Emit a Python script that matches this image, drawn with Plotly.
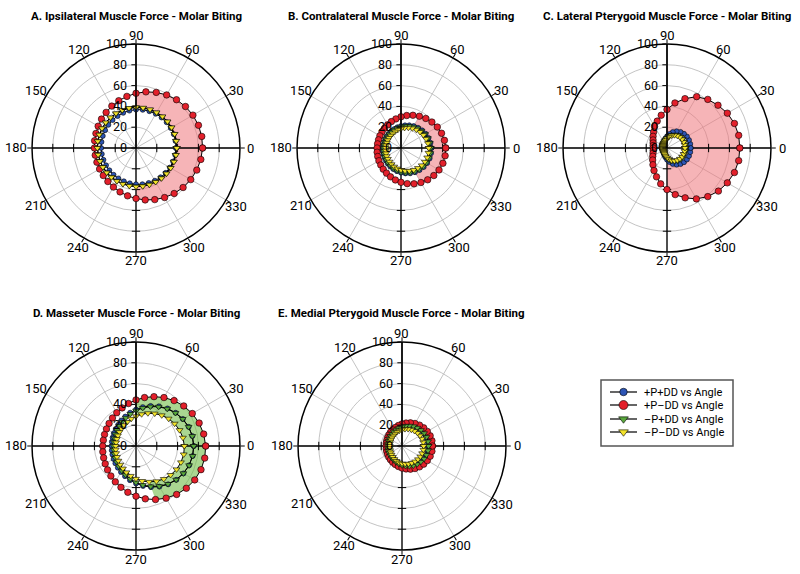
import math
import plotly.graph_objects as go

# ---------------- data ----------------
theta = list(range(0, 360, 10))
angle_ticks = list(range(0, 360, 30))
radial_ticks = [0, 20, 40, 60, 80, 100]
series_names = ["+P+DD vs Angle", "+P\u2013DD vs Angle", "\u2013P+DD vs Angle", "\u2013P\u2013DD vs Angle"]
titles = [
    "A. Ipsilateral Muscle Force - Molar Biting",
    "B. Contralateral Muscle Force - Molar Biting",
    "C. Lateral Pterygoid Muscle Force - Molar Biting",
    "D. Masseter Muscle Force - Molar Biting",
    "E. Medial Pterygoid Muscle Force - Molar Biting",
]

# A. Ipsilateral
ipsi_pp = [38.5, 38.6, 38.7, 38.6, 38.5, 38.3, 38.0, 37.7, 37.3, 36.9, 36.5, 36.0, 35.5, 35.1, 34.7, 34.3, 34.0, 33.7,
           33.5, 33.4, 33.3, 33.3, 33.4, 33.6, 33.8, 34.1, 34.5, 34.9, 35.4, 35.8, 36.3, 36.8, 37.2, 37.6, 38.0, 38.3]
ipsi_pm = [64.0, 64.2, 63.9, 63.2, 62.1, 60.6, 58.9, 56.9, 54.8, 52.6, 50.4, 48.4, 46.5, 44.7, 43.3, 42.0, 41.0, 40.4,
           40.0, 39.8, 40.0, 40.4, 41.1, 42.1, 43.4, 44.9, 46.7, 48.6, 50.7, 52.8, 55.0, 57.1, 59.1, 60.8, 62.2, 63.3]
ipsi_mp = [38.9, 39.0, 39.2, 39.2, 39.3, 39.3, 39.2, 39.2, 39.0, 38.9, 38.7, 38.5, 38.2, 38.0, 37.8, 37.5, 37.3, 37.1,
           36.9, 36.7, 36.6, 36.5, 36.5, 36.5, 36.5, 36.6, 36.7, 36.9, 37.1, 37.3, 37.5, 37.8, 38.0, 38.2, 38.5, 38.7]
ipsi_mm = [39.2, 39.3, 39.5, 39.5, 39.6, 39.6, 39.5, 39.5, 39.3, 39.2, 39.0, 38.8, 38.5, 38.3, 38.1, 37.8, 37.6, 37.4,
           37.2, 37.0, 36.9, 36.8, 36.8, 36.8, 36.8, 36.9, 37.0, 37.2, 37.4, 37.6, 37.8, 38.1, 38.3, 38.5, 38.8, 39.0]

# B. Contralateral
contra_pp = [29.2, 28.8, 28.2, 27.4, 26.4, 25.4, 24.3, 23.2, 22.1, 21.1, 20.2, 19.3, 18.6, 18.0, 17.6, 17.3, 17.1, 17.1,
             17.2, 17.4, 17.8, 18.3, 18.9, 19.7, 20.6, 21.6, 22.6, 23.7, 24.8, 25.9, 26.9, 27.7, 28.5, 29.0, 29.3, 29.3]
contra_pm = [43.0, 42.4, 41.5, 40.3, 38.8, 37.1, 35.3, 33.5, 31.7, 30.0, 28.4, 27.0, 25.7, 24.7, 23.9, 23.4, 23.0, 22.9,
             23.0, 23.3, 23.8, 24.5, 25.4, 26.6, 27.9, 29.5, 31.2, 33.0, 34.8, 36.6, 38.3, 39.9, 41.2, 42.2, 42.9, 43.1]
contra_mp = [28.5, 28.1, 27.5, 26.7, 25.7, 24.7, 23.6, 22.5, 21.4, 20.4, 19.5, 18.6, 17.9, 17.3, 16.9, 16.6, 16.4, 16.4,
             16.5, 16.7, 17.1, 17.6, 18.2, 19.0, 19.9, 20.9, 21.9, 23.0, 24.1, 25.2, 26.2, 27.0, 27.8, 28.3, 28.6, 28.6]
contra_mm = [26.7, 26.3, 25.7, 24.9, 23.9, 22.9, 21.8, 20.7, 19.6, 18.6, 17.7, 16.8, 16.1, 15.5, 15.1, 14.8, 14.6, 14.6,
             14.7, 14.9, 15.3, 15.8, 16.4, 17.2, 18.1, 19.1, 20.1, 21.2, 22.3, 23.4, 24.4, 25.2, 26.0, 26.5, 26.8, 26.8]

# C. Lateral pterygoid
latpt_pp = [22.8, 22.7, 22.5, 22.1, 21.3, 20.2, 18.5, 16.3, 13.7, 11.2, 9.0, 7.3, 6.1, 5.3, 4.7, 4.3, 4.0, 3.9,
            3.8, 3.9, 4.0, 4.3, 4.7, 5.3, 6.1, 7.3, 9.0, 11.2, 13.7, 16.3, 18.5, 20.2, 21.3, 22.1, 22.5, 22.7]
latpt_pm = [70.0, 70.0, 69.0, 67.0, 64.0, 61.0, 57.0, 50.5, 44.0, 37.0, 32.0, 27.5, 24.0, 20.0, 17.5, 15.5, 14.2, 13.5,
            13.3, 13.5, 14.3, 15.8, 18.0, 21.0, 25.0, 29.5, 35.0, 40.0, 45.5, 51.0, 56.5, 61.0, 64.5, 67.0, 69.0, 70.0]
latpt_mp = [17.9, 17.8, 17.6, 17.4, 16.8, 16.0, 14.8, 13.3, 11.5, 9.7, 8.2, 7.0, 6.1, 5.6, 5.1, 4.9, 4.7, 4.6,
            4.6, 4.6, 4.7, 4.9, 5.1, 5.6, 6.1, 7.0, 8.2, 9.7, 11.5, 13.3, 14.8, 16.0, 16.8, 17.4, 17.6, 17.8]
latpt_mm = [17.3, 17.2, 17.0, 16.8, 16.2, 15.4, 14.2, 12.7, 10.9, 9.1, 7.6, 6.4, 5.5, 5.0, 4.5, 4.3, 4.1, 4.0,
            4.0, 4.0, 4.1, 4.3, 4.5, 5.0, 5.5, 6.4, 7.6, 9.1, 10.9, 12.7, 14.2, 15.4, 16.2, 16.8, 17.0, 17.2]

# D. Masseter
mass_pp = [55.5, 55.0, 53.9, 52.0, 49.7, 47.1, 44.0, 41.0, 37.9, 35.0, 32.5, 30.1, 28.3, 26.6, 25.5, 24.6, 23.9, 23.6,
           23.5, 23.7, 24.1, 24.9, 25.9, 27.2, 28.9, 30.9, 33.4, 36.0, 39.0, 42.1, 45.1, 48.1, 50.6, 52.7, 54.4, 55.3]
mass_pm = [67.0, 66.1, 64.6, 62.5, 59.9, 57.0, 53.8, 50.5, 47.3, 44.3, 41.5, 39.0, 37.0, 35.2, 33.8, 32.8, 32.2, 31.9,
           32.0, 32.4, 33.1, 34.2, 35.7, 37.6, 39.8, 42.3, 45.2, 48.3, 51.6, 54.8, 57.9, 60.8, 63.2, 65.2, 66.5, 67.1]
mass_mp = [55.5, 55.0, 53.8, 51.9, 49.5, 46.7, 43.5, 40.3, 37.1, 34.0, 31.3, 28.8, 26.8, 25.0, 23.7, 22.7, 22.0, 21.6,
           21.5, 21.7, 22.2, 23.0, 24.1, 25.6, 27.4, 29.6, 32.2, 35.0, 38.2, 41.4, 44.6, 47.7, 50.4, 52.6, 54.3, 55.3]
mass_mm = [46.5, 45.8, 44.6, 42.9, 40.9, 38.5, 36.0, 33.5, 31.0, 28.6, 26.5, 24.6, 23.1, 21.8, 20.8, 20.1, 19.6, 19.4,
           19.5, 19.7, 20.3, 21.1, 22.1, 23.5, 25.1, 27.0, 29.2, 31.6, 34.2, 36.7, 39.2, 41.5, 43.4, 45.0, 46.0, 46.6]

# E. Medial pterygoid
medpt_pp = [24.8, 24.7, 24.3, 23.8, 23.0, 22.1, 21.1, 20.0, 18.9, 17.9, 16.8, 15.9, 15.1, 14.4, 13.8, 13.4, 13.1, 12.9,
            12.8, 12.9, 13.1, 13.4, 13.8, 14.4, 15.1, 15.9, 16.8, 17.9, 18.9, 20.0, 21.1, 22.1, 23.0, 23.8, 24.3, 24.7]
medpt_pm = [29.3, 29.2, 28.8, 28.1, 27.2, 26.2, 25.0, 23.7, 22.4, 21.2, 20.0, 18.9, 18.0, 17.2, 16.5, 16.0, 15.6, 15.4,
            15.3, 15.4, 15.6, 16.0, 16.5, 17.2, 18.0, 18.9, 20.0, 21.2, 22.4, 23.7, 25.0, 26.2, 27.2, 28.1, 28.8, 29.2]
medpt_mp = [25.5, 25.4, 25.0, 24.5, 23.7, 22.8, 21.8, 20.7, 19.6, 18.6, 17.5, 16.6, 15.8, 15.1, 14.5, 14.1, 13.8, 13.6,
            13.5, 13.6, 13.8, 14.1, 14.5, 15.1, 15.8, 16.6, 17.5, 18.6, 19.6, 20.7, 21.8, 22.8, 23.7, 24.5, 25.0, 25.4]
medpt_mm = [20.8, 20.7, 20.5, 20.0, 19.5, 18.8, 18.1, 17.3, 16.5, 15.7, 14.9, 14.2, 13.6, 13.0, 12.6, 12.2, 12.0, 11.9,
            11.8, 11.9, 12.1, 12.5, 13.1, 13.8, 14.6, 15.4, 16.2, 16.9, 17.5, 18.2, 18.9, 19.5, 20.0, 20.4, 20.6, 20.8]

panels = [
    [ipsi_pp, ipsi_pm, ipsi_mp, ipsi_mm],
    [contra_pp, contra_pm, contra_mp, contra_mm],
    [latpt_pp, latpt_pm, latpt_mp, latpt_mm],
    [mass_pp, mass_pm, mass_mp, mass_mm],
    [medpt_pp, medpt_pm, medpt_mp, medpt_mm],
]

# ---------------- styling ----------------
FONT = "Roboto, Liberation Sans, sans-serif"
PINK = "rgba(239,119,124,0.55)"
GREENF = "rgba(113,188,72,0.6)"
# (index of inner series, start angle, end angle, colour) for the shaded band
fills = [(3, -90, 90, PINK), (2, -60, 60, PINK), (0, -90, 90, PINK), (3, -70, 90, GREENF), None]
marker_styles = [
    dict(symbol="circle", color="#2d55b5", size=5),
    dict(symbol="circle", color="#e3202b", size=6.5),
    dict(symbol="triangle-down", color="#5aa83c", size=6),
    dict(symbol="triangle-down", color="#f3e32b", size=6),
]
# distance (px) from the pole to the centre of each angular tick label
ang_label_px = [115, 115.5, 113.5, 113, 113.5, 116, 120, 115.5, 115, 113, 115, 116]

W, H = 800, 574
R_PX = 104
centers = [(136, 148), (401, 148), (667, 148), (136, 446), (402, 446)]
title_y = [16, 16, 16, 313, 313]

fig = go.Figure()


def signed(a):
    return a if a <= 180 else a - 360


for i, series in enumerate(panels):
    pid = "polar" if i == 0 else f"polar{i+1}"
    red = series[1]
    fs = fills[i]
    if fs is not None:
        inner_idx, lo, hi, col = fs
        inner = series[inner_idx]
        pts = sorted([(signed(t), k) for k, t in enumerate(theta) if lo <= signed(t) <= hi])
        r_poly = [red[k] for _, k in pts] + [inner[k] for _, k in reversed(pts)]
        t_poly = [theta[k] for _, k in pts] + [theta[k] for _, k in reversed(pts)]
        fig.add_trace(go.Scatterpolar(r=r_poly, theta=t_poly, mode="lines", fill="toself",
                                      fillcolor=col, line=dict(width=0), showlegend=False,
                                      hoverinfo="skip", subplot=pid))
    # black cross axes
    fig.add_trace(go.Scatterpolar(r=[100, 0, 100], theta=[0, 0, 180], mode="lines",
                                  line=dict(color="black", width=1.3), showlegend=False,
                                  hoverinfo="skip", subplot=pid))
    fig.add_trace(go.Scatterpolar(r=[100, 0, 100], theta=[90, 0, 270], mode="lines",
                                  line=dict(color="black", width=1.3), showlegend=False,
                                  hoverinfo="skip", subplot=pid))
    # small ticks along cross axes
    tr = radial_ticks[1:-1]
    fig.add_trace(go.Scatterpolar(r=tr * 2, theta=[0] * len(tr) + [180] * len(tr), mode="markers",
                                  marker=dict(symbol="line-ns", size=6, line=dict(color="black", width=1)),
                                  showlegend=False, hoverinfo="skip", subplot=pid))
    fig.add_trace(go.Scatterpolar(r=tr, theta=[270] * len(tr), mode="markers",
                                  marker=dict(symbol="line-ew", size=6, line=dict(color="black", width=1)),
                                  showlegend=False, hoverinfo="skip", subplot=pid))
    for s, (vals, ms) in enumerate(zip(series, marker_styles)):
        fig.add_trace(go.Scatterpolar(
            r=vals + vals[:1], theta=theta + theta[:1], mode="lines+markers",
            name=series_names[s], showlegend=False,
            line=dict(color="black", width=1),
            marker=dict(symbol=ms["symbol"], color=ms["color"], size=ms["size"],
                        line=dict(color="black", width=0.6)),
            subplot=pid))

    cx, cy = centers[i]
    dom_x = [(cx - R_PX) / W, (cx + R_PX) / W]
    dom_y = [(H - cy - R_PX) / H, (H - cy + R_PX) / H]
    fig.layout[pid] = dict(
        domain=dict(x=dom_x, y=dom_y),
        bgcolor="white",
        radialaxis=dict(range=[0, 100], tickvals=radial_ticks, angle=90, side="counterclockwise",
                        showline=True, linecolor="black", linewidth=1.3, gridcolor="#c4c4c4", gridwidth=1,
                        ticks="outside", ticklen=4, tickcolor="black", tickangle=90,
                        tickfont=dict(size=12.5, color="black", family=FONT)),
        angularaxis=dict(tickmode="array", tickvals=angle_ticks, showticklabels=False,
                         direction="counterclockwise", rotation=0,
                         showline=True, linecolor="black", linewidth=1.5, gridcolor="#c4c4c4", gridwidth=1,
                         ticks="outside", ticklen=4, tickcolor="black"),
    )
    # angular tick labels, placed just outside the rim
    for a, dpx in zip(angle_ticks, ang_label_px):
        lx = cx + dpx * math.cos(math.radians(a))
        ly = cy - dpx * math.sin(math.radians(a))
        fig.add_annotation(text=str(a), x=lx / W, y=1 - ly / H, xref="paper", yref="paper",
                           xanchor="center", yanchor="middle", showarrow=False,
                           font=dict(size=13, color="black", family=FONT))
    fig.add_annotation(text="<b>" + titles[i] + "</b>", x=cx / W, y=1 - title_y[i] / H,
                       xref="paper", yref="paper", xanchor="center", yanchor="middle",
                       showarrow=False, font=dict(size=11.5, color="black", family=FONT))

# ---------------- hand-made legend (pixel coordinates on an invisible overlay axis) ----------------
leg_x0, leg_y0, leg_x1, leg_y1 = 601, 380, 733, 446
leg_rows = [392, 405, 419, 432]
fig.add_shape(type="rect", xref="paper", yref="paper",
              x0=leg_x0 / W, x1=leg_x1 / W, y0=1 - leg_y1 / H, y1=1 - leg_y0 / H,
              line=dict(color="#555555", width=1.5), fillcolor="white", layer="below")
for s, ms in enumerate(marker_styles):
    yy = leg_rows[s]
    fig.add_shape(type="line", xref="paper", yref="paper",
                  x0=610 / W, x1=637 / W, y0=1 - yy / H, y1=1 - yy / H,
                  line=dict(color="black", width=1.2), layer="below")
    fig.add_annotation(text=series_names[s], x=642 / W, y=1 - yy / H, xref="paper", yref="paper",
                       xanchor="left", yanchor="middle", showarrow=False,
                       font=dict(size=11, color="black", family=FONT))
    fig.add_trace(go.Scatter(x=[623.5], y=[yy], mode="markers", xaxis="x", yaxis="y",
                             marker=dict(symbol=ms["symbol"], color=ms["color"], size=ms["size"] + 2.5,
                                         line=dict(color="black", width=0.6)),
                             showlegend=False, hoverinfo="skip", cliponaxis=False))

fig.update_layout(
    width=W, height=H, margin=dict(l=0, r=0, t=0, b=0),
    paper_bgcolor="white", plot_bgcolor="rgba(0,0,0,0)",
    font=dict(family=FONT, color="black"),
    showlegend=False,
    xaxis=dict(domain=[0, 1], range=[0, W], visible=False, fixedrange=True),
    yaxis=dict(domain=[0, 1], range=[H, 0], visible=False, fixedrange=True),
)

fig.write_html("out.html", config={"displayModeBar": False},
               post_script="document.body.style.margin='0';document.body.style.overflow='hidden';")
